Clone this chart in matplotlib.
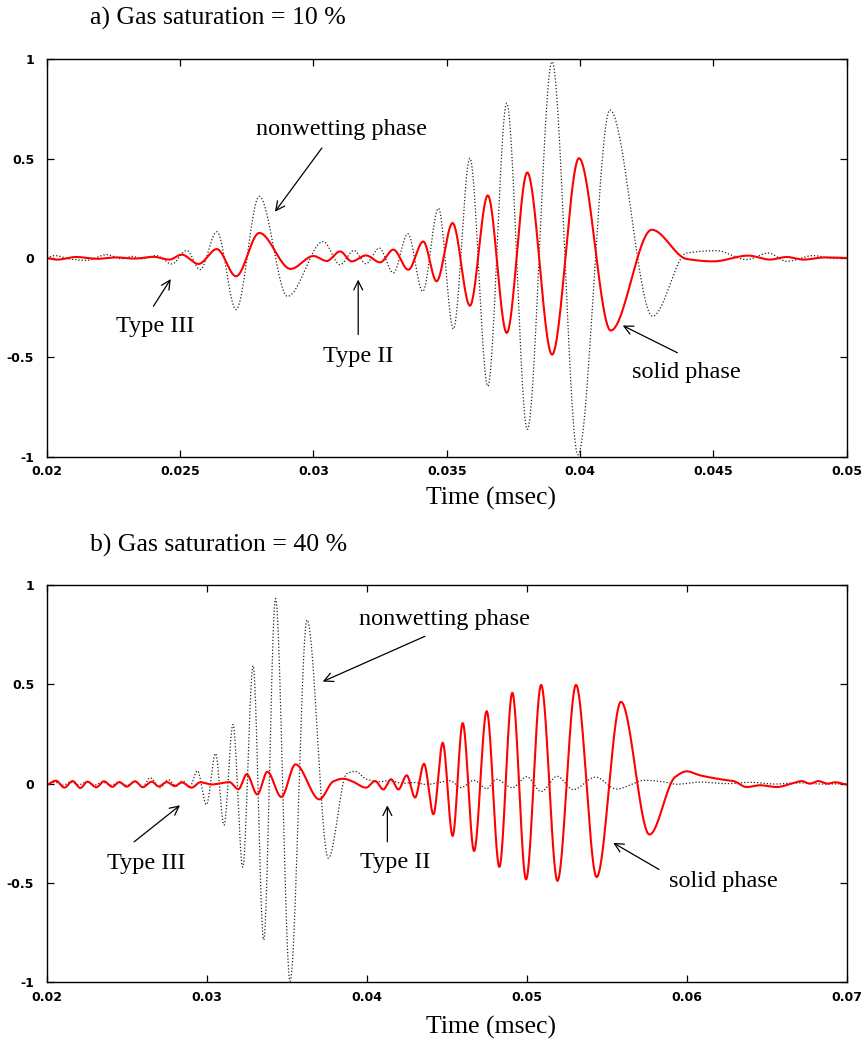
import numpy as np
import matplotlib
matplotlib.use("Agg")
import matplotlib.pyplot as plt

# ---- panel a) gas saturation 10 %  (extrema read off the traces) ----
a_solid_t = [0.0200, 0.0204, 0.0211, 0.0219, 0.0226, 0.0233, 0.0240, 0.0246, 0.02506, 0.02569,
             0.02638, 0.0271, 0.02797, 0.02915, 0.0300, 0.0305, 0.0310, 0.03144, 0.03197, 0.0325,
             0.0330, 0.03356, 0.03412, 0.03462, 0.03522, 0.03587, 0.03654, 0.03725, 0.03802, 0.03895,
             0.03996, 0.04115, 0.04269, 0.0440, 0.0450, 0.04631, 0.04712, 0.04775, 0.04837, 0.0492, 0.0500]
a_solid_v = [0.0, -0.008, 0.005, -0.004, 0.003, -0.003, 0.006, -0.008, 0.017, -0.030,
             0.045, -0.092, 0.126, -0.055, 0.010, -0.015, 0.033, -0.017, 0.013, -0.022,
             0.042, -0.059, 0.083, -0.117, 0.176, -0.240, 0.315, -0.377, 0.430, -0.486,
             0.502, -0.365, 0.142, -0.005, -0.017, 0.012, -0.008, 0.005, -0.008, 0.003, 0.0]

a_fluid_t = [0.0200, 0.0203, 0.0209, 0.0215, 0.02225, 0.0228, 0.0232, 0.0236, 0.0241, 0.02469,
             0.02525, 0.02575, 0.02638, 0.0271, 0.02797, 0.02903, 0.03037, 0.0310, 0.03152, 0.03197,
             0.03247, 0.0330, 0.03354, 0.0341, 0.03469, 0.03525, 0.03587, 0.03654, 0.03725, 0.03802,
             0.03895, 0.03992, 0.04112, 0.04272, 0.0440, 0.0451, 0.04625, 0.04706, 0.04775, 0.04875,
             0.0495, 0.0500]
a_fluid_v = [0.0, 0.012, -0.006, -0.012, 0.017, -0.004, 0.008, -0.004, 0.012, -0.030,
             0.038, -0.059, 0.132, -0.260, 0.310, -0.193, 0.083, -0.034, 0.038, -0.029,
             0.050, -0.075, 0.122, -0.168, 0.250, -0.357, 0.502, -0.645, 0.779, -0.863,
             0.988, -0.990, 0.745, -0.293, 0.025, 0.037, -0.008, 0.025, -0.017, 0.012,
             -0.003, 0.0]

# ---- panel b) gas saturation 40 % ----
b_solid_t = [0.0200, 0.02058, 0.0211, 0.02162, 0.0221, 0.02254, 0.0231, 0.02358, 0.0241, 0.02454,
             0.0250, 0.02552, 0.0260, 0.02656, 0.0270, 0.0275, 0.0280, 0.02844, 0.02906, 0.0296,
             0.0303, 0.03141, 0.03198, 0.0325, 0.03316, 0.03379, 0.03466, 0.03555, 0.03704, 0.03792,
             0.03854, 0.03906, 0.03996, 0.04052, 0.04104, 0.04152, 0.04198, 0.0425, 0.04302, 0.04358,
             0.04417, 0.04475, 0.04537, 0.0460, 0.04671, 0.0475, 0.04829, 0.0491, 0.04996, 0.0509,
             0.05192, 0.05308, 0.05437, 0.05589, 0.05767, 0.05927, 0.0600, 0.06083, 0.06229, 0.06292,
             0.06375, 0.06458, 0.06562, 0.06667, 0.06719, 0.0677, 0.06823, 0.0688, 0.06927, 0.0700]
b_solid_v = [-0.008, 0.015, -0.020, 0.013, -0.022, 0.010, -0.018, 0.012, -0.016, 0.008,
             -0.015, 0.012, -0.018, 0.010, -0.014, 0.008, -0.012, 0.006, -0.020, 0.007,
             -0.004, 0.008, -0.028, 0.047, -0.054, 0.060, -0.067, 0.097, -0.079, 0.012,
             0.025, 0.013, -0.020, 0.013, -0.029, 0.022, -0.029, 0.042, -0.070, 0.100,
             -0.154, 0.206, -0.263, 0.305, -0.339, 0.365, -0.419, 0.457, -0.482, 0.497,
             -0.489, 0.497, -0.470, 0.412, -0.256, 0.033, 0.062, 0.042, 0.020, 0.013,
             -0.017, -0.008, -0.017, 0.003, 0.013, 0.0, 0.013, 0.0, 0.007, -0.005]

b_fluid_t = [0.0200, 0.0205, 0.0210, 0.0215, 0.0220, 0.0225, 0.0230, 0.0235, 0.0240, 0.0245,
             0.0250, 0.0255, 0.0260, 0.02646, 0.02708, 0.0276, 0.0281, 0.0285, 0.02891, 0.02942,
             0.02998, 0.03055, 0.03108, 0.03164, 0.03225, 0.03290, 0.03356, 0.0343, 0.03521, 0.03627,
             0.0376, 0.03875, 0.03927, 0.0400, 0.0408, 0.0414, 0.0422, 0.0430, 0.0437, 0.0445,
             0.0452, 0.0459, 0.0467, 0.0475, 0.0481, 0.0491, 0.0500, 0.0509, 0.0519, 0.0529,
             0.0543, 0.0556, 0.0574, 0.0585, 0.05937, 0.06083, 0.0625, 0.0640, 0.0655, 0.0670,
             0.0685, 0.0700]
b_fluid_v = [0.0, 0.008, -0.008, 0.008, -0.006, 0.010, -0.006, 0.008, -0.008, 0.006,
             -0.008, 0.010, -0.015, 0.030, -0.020, 0.020, -0.012, 0.015, -0.020, 0.065,
             -0.106, 0.152, -0.209, 0.298, -0.420, 0.594, -0.787, 0.932, -0.995, 0.824,
             -0.375, 0.050, 0.062, 0.022, 0.010, 0.016, 0.002, 0.006, -0.004, 0.005,
             0.015, -0.020, 0.017, -0.025, 0.022, -0.020, 0.035, -0.040, 0.037, -0.030,
             0.033, -0.027, 0.017, 0.010, -0.003, 0.008, 0.0, 0.007, -0.002, 0.004,
             -0.002, 0.0]

a_xticks = [0.02, 0.025, 0.03, 0.035, 0.04, 0.045, 0.05]
a_xlabels = ["0.02", "0.025", "0.03", "0.035", "0.04", "0.045", "0.05"]
b_xticks = [0.02, 0.03, 0.04, 0.05, 0.06, 0.07]
b_xlabels = ["0.02", "0.03", "0.04", "0.05", "0.06", "0.07"]
yticks = [-1, -0.5, 0, 0.5, 1]
ylabels = ["-1", "-0.5", "0", "0.5", "1"]


def pchip(x, y, xn):
    # monotone cubic through the read extrema, so the trace stays smooth
    x = np.asarray(x, float)
    y = np.asarray(y, float)
    h = np.diff(x)
    d = np.diff(y) / h
    m = np.zeros_like(y)
    for k in range(1, len(x) - 1):
        if d[k - 1] * d[k] > 0:
            w1 = 2 * h[k] + h[k - 1]
            w2 = h[k] + 2 * h[k - 1]
            m[k] = (w1 + w2) / (w1 / d[k - 1] + w2 / d[k])
    m[0] = d[0]
    m[-1] = d[-1]
    i = np.clip(np.searchsorted(x, xn) - 1, 0, len(x) - 2)
    s = (xn - x[i]) / h[i]
    h00 = 2 * s**3 - 3 * s**2 + 1
    h10 = s**3 - 2 * s**2 + s
    h01 = -2 * s**3 + 3 * s**2
    h11 = s**3 - s**2
    return h00 * y[i] + h10 * h[i] * m[i] + h01 * y[i + 1] + h11 * h[i] * m[i + 1]


serif = ['Liberation Serif', 'DejaVu Serif']
tickfont = dict(family='DejaVu Sans', weight='bold', size=9)
arrow = dict(arrowstyle='->', lw=0.9, color='black', mutation_scale=16, shrinkA=0, shrinkB=0)

fig = plt.figure(figsize=(8.67, 10.46), dpi=100)
ax1 = fig.add_axes([0.0539, 0.5634, 0.9227, 0.3799])
ax2 = fig.add_axes([0.0539, 0.0609, 0.9227, 0.3798])


def draw(ax, st, sv, ft, fv, xt, xl):
    tt = np.linspace(st[0], st[-1], 4000)
    tf = np.linspace(ft[0], ft[-1], 4000)
    ax.plot(tf, pchip(ft, fv, tf), color='#222222', lw=0.9, ls=(0, (1, 1.6)))
    ax.plot(tt, pchip(st, sv, tt), color='#ff0000', lw=1.5)
    ax.set_xlim(xt[0], xt[-1])
    ax.set_ylim(-1, 1)
    ax.set_xticks(xt)
    ax.set_xticklabels(xl, fontdict=tickfont)
    ax.set_yticks(yticks)
    ax.set_yticklabels(ylabels, fontdict=tickfont)
    ax.tick_params(direction='in', length=5, width=0.9, top=True, right=True)
    ax.tick_params(axis='y', pad=9)
    ax.tick_params(axis='x', pad=6)
    for sp in ax.spines.values():
        sp.set_linewidth(1.0)


draw(ax1, a_solid_t, a_solid_v, a_fluid_t, a_fluid_v, a_xticks, a_xlabels)
draw(ax2, b_solid_t, b_solid_v, b_fluid_t, b_fluid_v, b_xticks, b_xlabels)

lab = dict(family=serif, size=17.5)
# panel a annotations
ax1.annotate('', xy=(0.02856, 0.233), xytext=(0.03032, 0.554), arrowprops=arrow)
ax1.text(0.03107, 0.645, 'nonwetting phase', ha='center', va='center', **lab)
ax1.annotate('', xy=(0.02465, -0.106), xytext=(0.0240, -0.243), arrowprops=arrow)
ax1.text(0.02406, -0.345, 'Type III', ha='center', va='center', **lab)
ax1.annotate('', xy=(0.03168, -0.109), xytext=(0.03168, -0.385), arrowprops=arrow)
ax1.text(0.03168, -0.494, 'Type II', ha='center', va='center', **lab)
ax1.annotate('', xy=(0.0416, -0.340), xytext=(0.04365, -0.477), arrowprops=arrow)
ax1.text(0.04397, -0.578, 'solid phase', ha='center', va='center', **lab)

# panel b annotations
ax2.annotate('', xy=(0.03725, 0.514), xytext=(0.04364, 0.742), arrowprops=arrow)
ax2.text(0.04489, 0.824, 'nonwetting phase', ha='center', va='center', **lab)
ax2.annotate('', xy=(0.02833, -0.109), xytext=(0.02546, -0.293), arrowprops=arrow)
ax2.text(0.02621, -0.402, 'Type III', ha='center', va='center', **lab)
ax2.annotate('', xy=(0.04129, -0.109), xytext=(0.04129, -0.293), arrowprops=arrow)
ax2.text(0.04177, -0.399, 'Type II', ha='center', va='center', **lab)
ax2.annotate('', xy=(0.05541, -0.298), xytext=(0.05827, -0.432), arrowprops=arrow)
ax2.text(0.06227, -0.494, 'solid phase', ha='center', va='center', **lab)

fig.text(0.1038, 0.9828, 'a) Gas saturation = 10 %', ha='left', va='center', family=serif, size=18.5)
fig.text(0.1038, 0.479, 'b) Gas saturation = 40 %', ha='left', va='center', family=serif, size=18.5)
fig.text(0.566, 0.5239, 'Time (msec)', ha='center', va='center', family=serif, size=18.5)
fig.text(0.566, 0.0182, 'Time (msec)', ha='center', va='center', family=serif, size=18.5)

fig.savefig('out.png', dpi=100)
